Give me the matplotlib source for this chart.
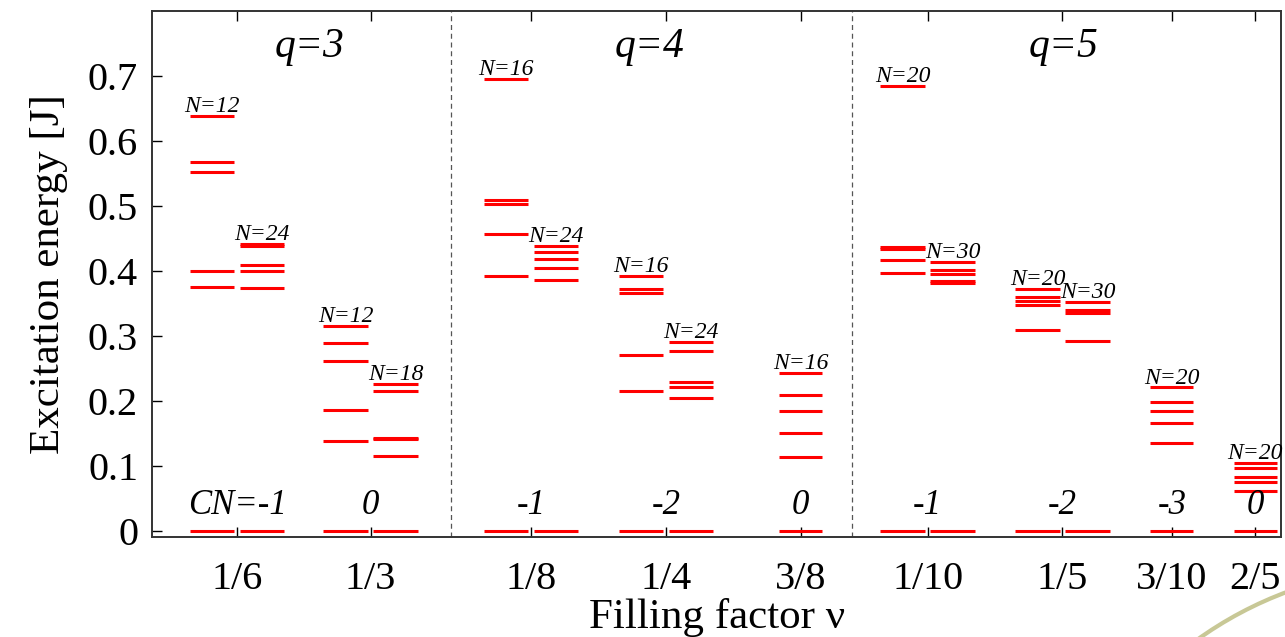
import matplotlib
matplotlib.use('Agg')
import matplotlib.pyplot as plt
from matplotlib.patches import Arc

plt.rcParams['font.family'] = ['Liberation Serif', 'DejaVu Serif']

# filling factors (x positions in arbitrary units, as on the original plot)
nu_labels = ['1/6', '1/3', '1/8', '1/4', '3/8', '1/10', '1/5', '3/10', '2/5']
nu_pos = [0.63, 1.62, 2.81, 3.81, 4.81, 5.75, 6.75, 7.56, 8.18]
chern = ['CN=-1', '0', '-1', '-2', '0', '-1', '-2', '-3', '0']

# smaller system (left bar, or a single centred bar)
n_small = [12, 12, 16, 16, 16, 20, 20, 20, 20]
e_small = [
    [0.0, 0.375, 0.400, 0.552, 0.567, 0.639],
    [0.0, 0.139, 0.187, 0.262, 0.290, 0.316],
    [0.0, 0.392, 0.457, 0.503, 0.510, 0.695],
    [0.0, 0.216, 0.271, 0.366, 0.372, 0.393],
    [0.0, 0.114, 0.151, 0.185, 0.209, 0.243],
    [0.0, 0.397, 0.417, 0.434, 0.437, 0.685],
    [0.0, 0.310, 0.348, 0.354, 0.360, 0.373],
    [0.0, 0.136, 0.166, 0.185, 0.198, 0.221],
    [0.0, 0.062, 0.076, 0.083, 0.097, 0.105],
]

# larger system (right bar), None where only one size was computed
n_large = [24, 18, 24, 24, None, 30, 30, None, None]
e_large = [
    [0.0, 0.374, 0.400, 0.410, 0.439, 0.442],
    [0.0, 0.115, 0.141, 0.144, 0.215, 0.227],
    [0.0, 0.386, 0.405, 0.418, 0.429, 0.438],
    [0.0, 0.205, 0.222, 0.230, 0.277, 0.291],
    None,
    [0.0, 0.382, 0.385, 0.395, 0.402, 0.414],
    [0.0, 0.293, 0.336, 0.340, 0.352],
    None,
    None,
]

q_labels = ['q=3', 'q=4', 'q=5']
q_pos = [1.17, 3.69, 6.76]
separators = [2.22, 5.19]

fig = plt.figure(figsize=(12.85, 6.37), dpi=100)
ax = fig.add_axes([152 / 1285, 100 / 637, 1129 / 1285, 526 / 637])

half = 0.35
single = 0.16
red = '#ff0000'
nfont = dict(fontsize=17, style='italic', ha='center', va='baseline')

for i, x in enumerate(nu_pos):
    if e_large[i] is None:
        x0, x1 = x - single, x + single
    else:
        x0, x1 = x - half, x - 0.02
    ax.hlines(e_small[i], x0, x1, colors=red, lw=2.2)
    ax.text((x0 + x1) / 2, max(e_small[i]) + 0.006, 'N=%d' % n_small[i], **nfont)
    if e_large[i] is not None:
        x0, x1 = x + 0.02, x + half
        ax.hlines(e_large[i], x0, x1, colors=red, lw=2.2)
        ax.text((x0 + x1) / 2, max(e_large[i]) + 0.006, 'N=%d' % n_large[i], **nfont)
    ax.text(x, 0.04, chern[i], fontsize=25, style='italic', ha='center', va='center')

for s in separators:
    ax.axvline(s, color='#555555', lw=0.9, ls=(0, (4, 3)))

for lab, x in zip(q_labels, q_pos):
    ax.text(x, 0.745, lab, fontsize=30, style='italic', ha='center', va='center')

ax.set_xlim(0, 8.37)
ax.set_ylim(-0.009, 0.8)
ax.set_xticks(nu_pos)
ax.set_xticklabels(nu_labels)
ax.set_yticks([0, 0.1, 0.2, 0.3, 0.4, 0.5, 0.6, 0.7])
ax.set_yticklabels(['0', '0.1', '0.2', '0.3', '0.4', '0.5', '0.6', '0.7'])
ax.tick_params(axis='x', direction='in', length=7, width=1, top=True, pad=17, labelsize=29)
ax.tick_params(axis='y', direction='in', length=7, width=1, right=False, pad=10, labelsize=29)
for sp in ax.spines.values():
    sp.set_color('#333333')
    sp.set_linewidth(1.4)

ax.set_ylabel('Excitation energy [J]', fontsize=31, labelpad=14)
fig.text(717 / 1285, 9 / 637, 'Filling factor \u03bd', fontsize=31, ha='center', va='baseline')

# faint decorative arc in the lower right corner of the slide
fig.patches.append(Arc((1420 / 1285, -313 / 637), 2 * 382 / 1285, 2 * 382 / 637,
                       theta1=95, theta2=150, transform=fig.transFigure,
                       color='#c8c896', lw=3))

fig.savefig('out.png', dpi=100)
